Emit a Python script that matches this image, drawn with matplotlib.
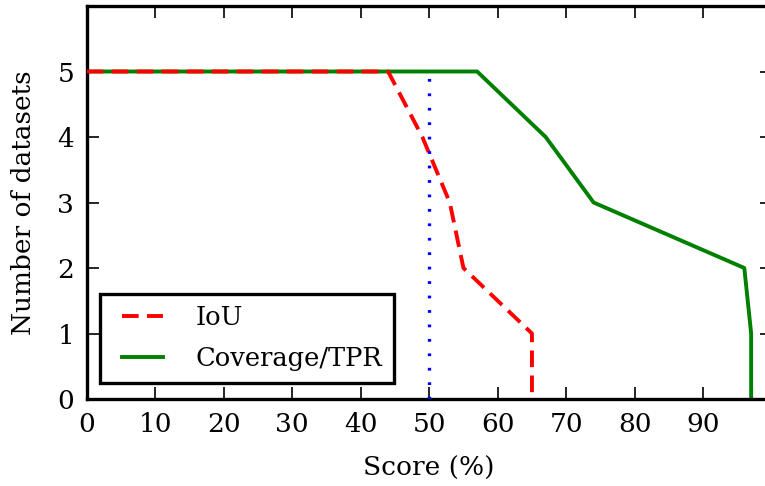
import matplotlib
matplotlib.use("Agg")
import matplotlib.pyplot as plt
from matplotlib.legend_handler import HandlerLine2D

# survival-style counts: how many datasets reach a given score
iou_x = [0, 44, 49, 53, 55, 65, 65]
iou_y = [5, 5, 4, 3, 2, 1, 0]
cov_x = [0, 57, 67, 74, 96, 97, 97]
cov_y = [5, 5, 4, 3, 2, 1, 0]
thresh_x = [50, 50]
thresh_y = [0, 5]


class InsetLine(HandlerLine2D):
    # old-style legend lines: shortened by a pad at each end
    def create_artists(self, legend, orig_handle, xdescent, ydescent,
                       width, height, fontsize, trans):
        arts = super().create_artists(legend, orig_handle, xdescent, ydescent,
                                      width, height, fontsize, trans)
        pad = 0.4 * fontsize
        y0 = arts[0].get_ydata()[0]
        arts[0].set_data([-xdescent + pad, -xdescent + width - pad], [y0, y0])
        return arts


plt.rcParams['font.family'] = ['DejaVu Serif']
plt.rcParams['lines.scale_dashes'] = False
plt.rcParams['axes.linewidth'] = 2.4

fig = plt.figure(figsize=(7.65, 4.86), dpi=100)
ax = fig.add_axes([86.7 / 765, 87 / 486, 685 / 765, 393 / 486])

ax.plot(iou_x, iou_y, color='red', lw=2.8, dashes=(12, 6), label='IoU', zorder=3)
ax.plot(cov_x, cov_y, color='green', lw=2.8, label='Coverage/TPR', zorder=2)
ax.plot(thresh_x, thresh_y, color='blue', lw=2.4, dashes=(2, 8.4), zorder=4)

ax.set_xlim(0, 100)
ax.set_ylim(0, 6)
ax.set_xticks(range(0, 100, 10))
ax.set_yticks(range(0, 6))
ax.tick_params(direction='in', length=8.5, width=1.2, labelsize=19, pad=9,
               top=True, right=True)

ax.set_xlabel('Score (%)', fontsize=19, labelpad=14)
ax.set_ylabel('Number of datasets', fontsize=19, labelpad=15.5)

leg = ax.legend(loc='lower left', bbox_to_anchor=(0.0194, 0.041),
                borderaxespad=0, fontsize=18.5, fancybox=False, framealpha=1,
                edgecolor='black', handlelength=2.4, borderpad=0.45,
                labelspacing=0.63, handletextpad=0.88,
                handler_map={plt.Line2D: InsetLine()})
leg.get_frame().set_linewidth(2.4)

fig.savefig('out.png', dpi=100)
